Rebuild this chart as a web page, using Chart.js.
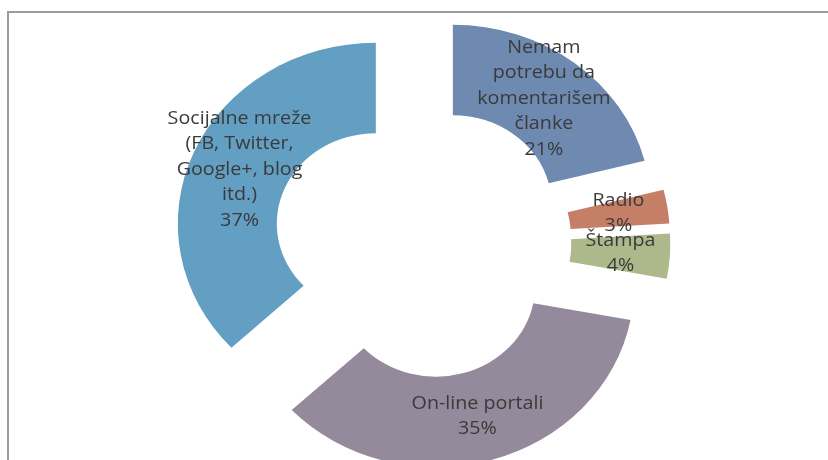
<!DOCTYPE html>
<html>
<head>
<meta charset="utf-8">
<script src="https://cdn.jsdelivr.net/npm/chart.js@4.4.1/dist/chart.umd.min.js"></script>
<style>
  html, body { margin: 0; padding: 0; background: #fff; overflow: hidden; }
  #wrap { position: relative; width: 828px; height: 460px; }
</style>
</head>
<body>
<div id="wrap"><canvas id="chart"></canvas></div>
<script>
// slice names, already broken into the lines shown in the picture
const categories = [
  ['Nemam', 'potrebu da', 'komentarišem', 'članke'],
  ['Radio'],
  ['Štampa'],
  ['On-line portali'],
  ['Socijalne mreže', '(FB, Twitter,', 'Google+, blog', 'itd.)'],
];
const percents = [21, 3, 4, 35, 37];
const sliceColors = ['#6f8ab1', '#c47f66', '#adb88b', '#95899c', '#639fc2'];

const explode = 46;       // how far each slice is pulled out
const stretchX = 1.094;   // the original picture is a bit wider than tall
const centerX = 422;

// pull every arc outward along its middle angle, without growing its radius
const explodePlugin = {
  id: 'explode',
  afterDatasetsUpdate(chart) {
    chart.getDatasetMeta(0).data.forEach(arc => {
      const mid = (arc.startAngle + arc.endAngle) / 2;
      arc.x += Math.cos(mid) * explode;
      arc.y += Math.sin(mid) * explode;
    });
  },
  beforeDraw(chart) {
    const ctx = chart.ctx;
    ctx.save();
    ctx.strokeStyle = '#9b9b9f';
    ctx.lineWidth = 2;
    ctx.beginPath();
    ctx.moveTo(8, chart.height);
    ctx.lineTo(8, 12);
    ctx.lineTo(chart.width, 12);
    ctx.stroke();
    ctx.restore();
  },
  beforeDatasetsDraw(chart) {
    const ctx = chart.ctx;
    ctx.save();
    ctx.translate(centerX, 0);
    ctx.scale(stretchX, 1);
    ctx.translate(-centerX, 0);
  },
  afterDatasetsDraw(chart) {
    const ctx = chart.ctx;
    ctx.font = '18px "Open Sans"';
    ctx.fillStyle = '#3a3a3a';
    ctx.textAlign = 'center';
    ctx.textBaseline = 'middle';
    const lineH = 25.5;
    chart.getDatasetMeta(0).data.forEach((arc, i) => {
      const p = arc.getCenterPoint();
      const lines = categories[i].concat([percents[i] + '%']);
      const top = p.y - (lines.length - 1) * lineH / 2;
      lines.forEach((t, k) => ctx.fillText(t, p.x, top + k * lineH));
    });
    ctx.restore();
  }
};

new Chart(document.getElementById('chart'), {
  type: 'doughnut',
  data: {
    labels: categories,
    datasets: [{
      data: percents,
      backgroundColor: sliceColors,
      borderWidth: 0,
      clip: false,
    }]
  },
  options: {
    responsive: true,
    maintainAspectRatio: false,
    animation: false,
    cutout: '50%',
    layout: { padding: { left: 241, right: 225, top: 61, bottom: 37 } },
    plugins: {
      legend: { display: false },
      tooltip: { enabled: false },
    }
  },
  plugins: [explodePlugin]
});
</script>
</body>
</html>
